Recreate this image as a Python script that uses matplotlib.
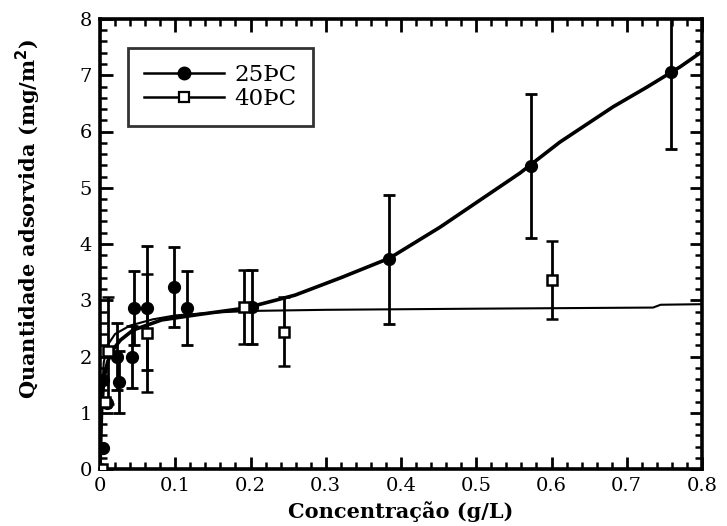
import matplotlib
matplotlib.use("Agg")
import matplotlib.pyplot as plt
from matplotlib.ticker import MultipleLocator

# ---- data ----
x25 = [0.0, 0.004, 0.004, 0.009, 0.022, 0.025, 0.043, 0.045, 0.063, 0.099, 0.116, 0.202, 0.384, 0.573, 0.759]
y25 = [0.0, 0.37, 1.58, 1.17, 2.0, 1.55, 1.99, 2.86, 2.86, 3.24, 2.86, 2.88, 3.73, 5.39, 7.06]
e25 = [0.0, 0.0, 0.0, 0.0, 0.6, 0.55, 0.55, 0.66, 1.10, 0.71, 0.66, 0.66, 1.15, 1.28, 1.37]

x40 = [0.002, 0.006, 0.010, 0.063, 0.191, 0.244, 0.600]
y40 = [0.0, 1.2, 2.1, 2.42, 2.88, 2.44, 3.36]
e40 = [0.0, 0.0, 0.95, 1.05, 0.66, 0.61, 0.69]

fit25_x = [0.0, 0.002, 0.005, 0.010, 0.016, 0.027, 0.044, 0.082, 0.133, 0.193, 0.259, 0.320,
           0.385, 0.452, 0.505, 0.558, 0.611, 0.682, 0.727, 0.771, 0.800]
fit25_y = [0.0, 1.0, 1.6, 1.9, 2.1, 2.29, 2.47, 2.65, 2.75, 2.86, 3.09, 3.40,
           3.75, 4.30, 4.78, 5.26, 5.81, 6.44, 6.79, 7.15, 7.42]

fit40_x = [0.0, 0.002, 0.005, 0.010, 0.020, 0.040, 0.070, 0.100, 0.150, 0.200, 0.300, 0.500,
           0.735, 0.745, 0.800]
fit40_y = [0.0, 1.2, 1.9, 2.2, 2.4, 2.55, 2.66, 2.73, 2.78, 2.81, 2.83, 2.85,
           2.87, 2.92, 2.93]

xticks = [0, 0.1, 0.2, 0.3, 0.4, 0.5, 0.6, 0.7, 0.8]
xticklabels = ["0", "0.1", "0.2", "0.3", "0.4", "0.5", "0.6", "0.7", "0.8"]
yticks = [0, 1, 2, 3, 4, 5, 6, 7, 8]

label25 = "25ÞC"
label40 = "40ÞC"

# ---- figure ----
fig = plt.figure(figsize=(7.27, 5.26), dpi=100)
ax = fig.add_axes([100/727, 1-469/526, 602/727, 450/526])

serif = "DejaVu Serif"

ax.plot(fit25_x, fit25_y, color="black", lw=2.6, zorder=3)
ax.plot(fit40_x, fit40_y, color="black", lw=1.5, zorder=3)

ax.errorbar(x25, y25, yerr=e25, fmt="o", color="black", ms=8.5, mfc="black",
            ecolor="black", elinewidth=2.0, capsize=4, capthick=2.0, zorder=4)
ax.errorbar(x40, y40, yerr=e40, fmt="s", color="black", ms=7, mfc="white", mew=1.8,
            ecolor="black", elinewidth=2.0, capsize=4, capthick=2.0, zorder=4)

# legend handles
h25, = ax.plot([], [], color="black", lw=1.8, marker="o", ms=9, mfc="black")
h40, = ax.plot([], [], color="black", lw=1.8, marker="s", ms=7, mfc="white", mew=1.6)
leg = ax.legend([h25, h40], [label25, label40], loc="upper left",
                bbox_to_anchor=(28/602, 1-29/450), frameon=True, fancybox=False,
                edgecolor="black", handlelength=3.5, handletextpad=0.45,
                borderpad=0.7, labelspacing=0.08, borderaxespad=0,
                prop={"family": serif, "size": 16.5})
leg.get_frame().set_linewidth(2.0)

ax.set_xlim(0, 0.8)
ax.set_ylim(0, 8)
ax.set_xticks(xticks)
ax.set_xticklabels(xticklabels)
ax.set_yticks(yticks)
ax.xaxis.set_minor_locator(MultipleLocator(0.02))
ax.yaxis.set_minor_locator(MultipleLocator(0.2))

ax.tick_params(which="both", direction="in", top=True, right=True, colors="black")
ax.tick_params(which="major", length=9, width=2.0, pad=6, labelsize=14)
ax.tick_params(which="minor", length=5, width=1.8)
for lab in ax.get_xticklabels() + ax.get_yticklabels():
    lab.set_family(serif)
for sp in ax.spines.values():
    sp.set_linewidth(2.6)

ax.set_xlabel("Concentração (g/L)", family=serif, fontweight="bold", fontsize=15, labelpad=4)
ax.set_ylabel("Quantidade adsorvida (mg/m$^{\\mathbf{2}}$)", family=serif, fontweight="bold",
              fontsize=15, labelpad=8)
ax.yaxis.set_label_coords(-0.095, 0.555)

fig.savefig("out.png", dpi=100)
